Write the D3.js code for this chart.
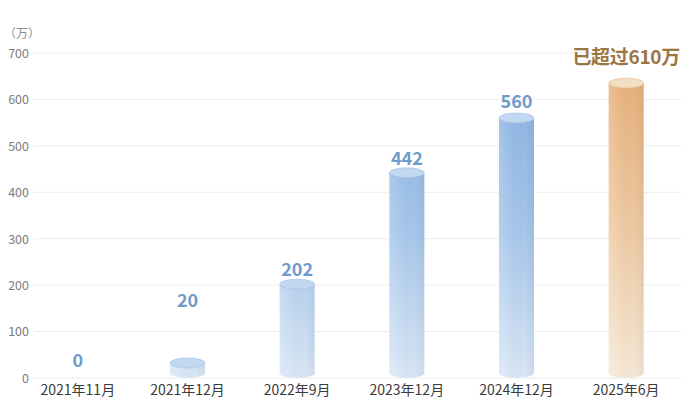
<!DOCTYPE html>
<html><head><meta charset="utf-8">
<script src="https://cdn.jsdelivr.net/npm/d3@7/dist/d3.min.js"></script>
<style>
html,body{margin:0;padding:0;background:#fff;}
svg{display:block;font-family:"Noto Sans CJK SC","Noto Sans",sans-serif;}
</style></head>
<body><svg id="c" width="689" height="406"></svg>
<script>
// ---- data ----
const categories = ["2021年11月","2021年12月","2022年9月","2023年12月","2024年12月","2025年6月"];
const values = [0, 20, 202, 442, 560, 635];
const valueLabels = ["0","20","202","442","560","已超过610万"];
const highlight = [false,false,false,false,false,true];
const yTicks = [0,100,200,300,400,500,600,700];
const unitLabel = "（万）";

// ---- layout ----
const W = 689, H = 406;
const svg = d3.select("#c");
const x = d3.scaleBand().domain(categories).range([23, 681]).padding(0);
const y = d3.scaleLinear().domain([0, 700]).range([378, 53]);
const barW = 35, ry = 5;

const defs = svg.append("defs");
function vgrad(id, stops){
  const g = defs.append("linearGradient").attr("id", id)
    .attr("gradientUnits","userSpaceOnUse").attr("x1",0).attr("x2",0)
    .attr("y1", y(650)).attr("y2", y(0));
  stops.forEach(s => g.append("stop").attr("offset", s[0]).attr("stop-color", s[1]));
}
vgrad("gBlue", [[0,"#88b2e1"],[0.5,"#a5c5ea"],[1,"#d8e6f5"]]);
vgrad("gOrange", [[0,"#e6af7a"],[0.5,"#eec9a2"],[1,"#f5e8d6"]]);
const hs = defs.append("linearGradient").attr("id","shade").attr("x1",0).attr("x2",1).attr("y1",0).attr("y2",0);
[[0,"#ffffff",0.18],[0.3,"#ffffff",0.05],[0.7,"#000000",0.0],[1,"#000000",0.05]].forEach(s =>
  hs.append("stop").attr("offset",s[0]).attr("stop-color",s[1]).attr("stop-opacity",s[2]));

// grid
svg.append("g").selectAll("line").data(yTicks).join("line")
  .attr("x1", 34).attr("x2", 681).attr("y1", d => y(d)).attr("y2", d => y(d))
  .attr("stroke", "#ececec").attr("stroke-width", 1);

// y axis
const yAxis = svg.append("g").attr("transform","translate(30,0)")
  .call(d3.axisLeft(y).tickValues(yTicks).tickSize(0).tickPadding(1));
yAxis.select(".domain").remove();
yAxis.selectAll("text").attr("fill","#7d7d7d").style("font-size","12.5px")
  .style("font-family","'Noto Sans CJK SC',sans-serif").attr("dy","0.35em");

svg.append("text").attr("x", 4).attr("y", 38).text(unitLabel)
  .attr("fill","#8e8e8e").style("font-size","12px");

// x axis
const xAxis = svg.append("g").attr("transform", `translate(0,${y(0)})`)
  .call(d3.axisBottom(x).tickSize(0).tickPadding(7));
xAxis.select(".domain").remove();
xAxis.selectAll("text").attr("fill","#3a3a3a").style("font-size","14px")
  .style("font-family","'Noto Sans CJK SC',sans-serif");

// bars (cylinders)
const minBody = 10;
const bars = svg.append("g").selectAll("g").data(categories.map((c,i)=>({c, v:values[i], i}))).join("g")
  .attr("transform", d => `translate(${x(d.c) + x.bandwidth()/2},0)`);

bars.each(function(d){
  if (d.v <= 0) return;
  const g = d3.select(this);
  const yb = y(0) - ry;
  const yt = Math.min(y(d.v), yb - minBody);
  const fill = highlight[d.i] ? "url(#gOrange)" : "url(#gBlue)";
  const top = highlight[d.i] ? "#f2dec2" : "#c2d8f1";
  const rim = highlight[d.i] ? "#e2b68a" : "#9dbfe6";
  const hw = barW/2;
  const body = `M${-hw},${yt} L${-hw},${yb} A${hw},${ry} 0 0 0 ${hw},${yb} L${hw},${yt} Z`;
  g.append("path").attr("d", body).attr("fill", fill);
  g.append("path").attr("d", body).attr("fill", "url(#shade)");
  g.append("ellipse").attr("cx",0).attr("cy",yt).attr("rx",hw).attr("ry",ry)
    .attr("fill", top).attr("stroke", rim).attr("stroke-width", 0.6);
});

// value labels
const lift = [-4, 46, -2, -2, 0, 9];
bars.append("text")
  .attr("text-anchor","middle")
  .attr("y", d => {
    const yb = y(0) - ry;
    const yt = d.v > 0 ? Math.min(y(d.v), yb - minBody) : y(0) - ry;
    return yt - ry - 5 - lift[d.i];
  })
  .attr("fill", d => highlight[d.i] ? "#9a7645" : "#6e9bc8")
  .style("font-size", d => highlight[d.i] ? "19px" : "18px").style("font-weight", "bold")
  .style("letter-spacing", d => highlight[d.i] ? "-0.3px" : "0px")
  .text(d => valueLabels[d.i]);
</script>
</body></html>
